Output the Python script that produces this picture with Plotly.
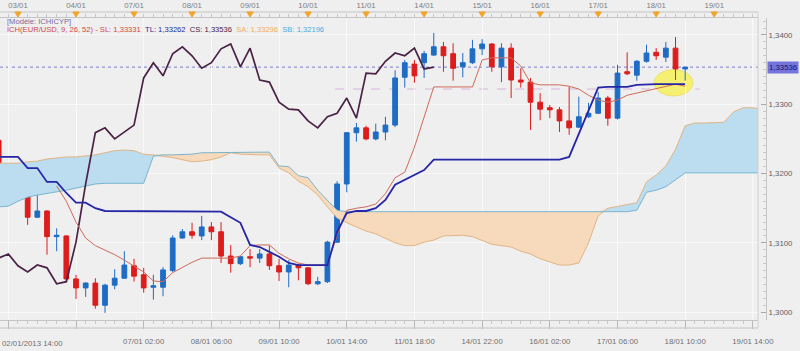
import plotly.graph_objects as go
import numpy as np

# ---------------- data (EUR/USD 4h candles, index = candle number) ----------------
candle_x = list(range(-2, 70))
opens = [1.3248, 1.3168, 1.3184, 1.3171, 1.3137, 1.3146, 1.3109, 1.3110, 1.3048, 1.3035,
         1.3042, 1.3010, 1.3039, 1.3049, 1.3067, 1.3054, 1.3036, 1.3036, 1.3060, 1.3107,
         1.3116, 1.3110, 1.3123, 1.3116, 1.3081, 1.3070, 1.3080, 1.3078, 1.3084, 1.3067,
         1.3058, 1.3068, 1.3064, 1.3041, 1.3044, 1.3101, 1.3185, 1.3259, 1.3266, 1.3250,
         1.3260, 1.3270, 1.3339, 1.3358, 1.3360, 1.3371, 1.3383, 1.3373, 1.3354, 1.3360,
         1.3380, 1.3387, 1.3354, 1.3381, 1.3335, 1.3332, 1.3303, 1.3295, 1.3292, 1.3276,
         1.3267, 1.3282, 1.3287, 1.3309, 1.3280, 1.3347, 1.3342, 1.3362, 1.3375, 1.3368,
         1.3381, 1.3351]
highs = [1.3254, 1.3188, 1.3188, 1.3172, 1.3169, 1.3147, 1.3121, 1.3111, 1.3054, 1.3043,
         1.3049, 1.3041, 1.3062, 1.3088, 1.3077, 1.3064, 1.3054, 1.3065, 1.3111, 1.3120,
         1.3129, 1.3139, 1.3130, 1.3130, 1.3097, 1.3081, 1.3091, 1.3091, 1.3096, 1.3077,
         1.3075, 1.3070, 1.3065, 1.3051, 1.3103, 1.3189, 1.3260, 1.3273, 1.3269, 1.3272,
         1.3282, 1.3349, 1.3364, 1.3364, 1.3377, 1.3403, 1.3390, 1.3388, 1.3374, 1.3393,
         1.3394, 1.3388, 1.3388, 1.3388, 1.3352, 1.3338, 1.3316, 1.3299, 1.3296, 1.3325,
         1.3311, 1.3302, 1.3318, 1.3312, 1.3357, 1.3375, 1.3364, 1.3386, 1.3381, 1.3390,
         1.3397, 1.3354]
lows = [1.3166, 1.3158, 1.3165, 1.3126, 1.3136, 1.3083, 1.3088, 1.3045, 1.3019, 1.3022,
        1.3005, 1.2999, 1.3033, 1.3048, 1.3044, 1.3028, 1.3018, 1.3023, 1.3058, 1.3106,
        1.3106, 1.3104, 1.3104, 1.3071, 1.3057, 1.3068, 1.3065, 1.3071, 1.3061, 1.3045,
        1.3036, 1.3046, 1.3039, 1.3039, 1.3042, 1.3100, 1.3173, 1.3246, 1.3248, 1.3248,
        1.3248, 1.3267, 1.3324, 1.3331, 1.3338, 1.3370, 1.3347, 1.3334, 1.3339, 1.3358,
        1.3371, 1.3347, 1.3332, 1.3309, 1.3324, 1.3263, 1.3277, 1.3280, 1.3260, 1.3256,
        1.3266, 1.3280, 1.3286, 1.3269, 1.3278, 1.3342, 1.3334, 1.3360, 1.3364, 1.3361,
        1.3335, 1.3334]
closes = [1.3169, 1.3184, 1.3169, 1.3137, 1.3146, 1.3109, 1.3111, 1.3048, 1.3035, 1.3042,
          1.3010, 1.3039, 1.3049, 1.3068, 1.3052, 1.3035, 1.3038, 1.3061, 1.3107, 1.3116,
          1.3111, 1.3123, 1.3116, 1.3081, 1.3070, 1.3080, 1.3078, 1.3084, 1.3067, 1.3058,
          1.3068, 1.3064, 1.3041, 1.3044, 1.3101, 1.3185, 1.3259, 1.3266, 1.3250, 1.3260,
          1.3270, 1.3338, 1.3360, 1.3341, 1.3373, 1.3383, 1.3370, 1.3352, 1.3360, 1.3380,
          1.3387, 1.3354, 1.3381, 1.3335, 1.3332, 1.3303, 1.3293, 1.3292, 1.3276, 1.3266,
          1.3282, 1.3287, 1.3309, 1.3280, 1.3345, 1.3344, 1.3362, 1.3374, 1.3370, 1.3381,
          1.3351, 1.33536]

# Tenkan (SL) - hidden inside the cloud for the first candles
tenkan = [None, None, None, None, None, None,
          1.3182, 1.3160, 1.3130, 1.3107, 1.3096, 1.3090, 1.3083, 1.3075, 1.3067, 1.3058,
          1.3045, 1.3044, 1.3057, 1.3065, 1.3072, 1.3078, 1.3078, 1.3078, 1.3078, 1.3081,
          1.3096, 1.3097, 1.3097, 1.3085, 1.3077, 1.3071, 1.3068, 1.3068, 1.3068, 1.3111,
          1.3147, 1.3150, 1.3152, 1.3156, 1.3171, 1.3194, 1.3202, 1.3238, 1.3282, 1.3325,
          1.3325, 1.3325, 1.3325, 1.3325, 1.3364, 1.3367, 1.3367, 1.3367, 1.3355, 1.3331,
          1.3328, 1.3328, 1.3328, 1.3326, 1.3322, 1.3313, 1.3306, 1.3303, 1.3306, 1.3313,
          1.3316, 1.3319, 1.3322, 1.3326, 1.3329, 1.3326]
# Kijun (TL)
kijun = [1.3224, 1.3224, 1.3224, 1.3208, 1.3208, 1.3188, 1.3188, 1.3172, 1.3158, 1.3158,
         1.3150, 1.3146, 1.3146, 1.3146, 1.3145, 1.3145, 1.3145, 1.3145, 1.3145, 1.3145,
         1.3145, 1.3145, 1.3145, 1.3145, 1.3137, 1.3129, 1.3097, 1.3094, 1.3087, 1.3080,
         1.3071, 1.3068, 1.3068, 1.3068, 1.3068, 1.3116, 1.3143, 1.3146, 1.3146, 1.3150,
         1.3162, 1.3184, 1.3191, 1.3197, 1.3205, 1.3220, 1.3220, 1.3220, 1.3220, 1.3220,
         1.3220, 1.3220, 1.3220, 1.3220, 1.3220, 1.3220, 1.3220, 1.3220, 1.3220, 1.3224,
         1.3257, 1.3292, 1.3324, 1.3325, 1.3325, 1.3325, 1.3328, 1.3329, 1.3329, 1.3329,
         1.3329, 1.3329]

# Senkou spans (cloud), shown 26 candles ahead
cloud_x = list(range(-2, 78))
senkou_a = [1.3215, 1.3215, 1.3215, 1.3217, 1.3218, 1.3221, 1.3223, 1.3224, 1.3224, 1.3225,
            1.3227, 1.3230, 1.3233, 1.3234, 1.3233, 1.3228, 1.3227, 1.3225, 1.3223, 1.3220,
            1.3217, 1.3218, 1.3220, 1.3224, 1.3230, 1.3228, 1.3227, 1.3227, 1.3227, 1.3208,
            1.3201, 1.3189, 1.3181, 1.3169, 1.3152, 1.3136, 1.3129, 1.3123, 1.3117, 1.3113,
            1.3107, 1.3100, 1.3096, 1.3096, 1.3101, 1.3104, 1.3110, 1.3111, 1.3111, 1.3109,
            1.3104, 1.3098, 1.3096, 1.3094, 1.3088, 1.3084, 1.3077, 1.3072, 1.3068, 1.3068,
            1.3071, 1.3100, 1.3139, 1.3150, 1.3153, 1.3155, 1.3158, 1.3188, 1.3198, 1.3211,
            1.3235, 1.3269, 1.3273, 1.3273, 1.3273, 1.3274, 1.3289, 1.3295, 1.3295, 1.3293]
senkou_b = [1.3152, 1.3153, 1.3160, 1.3166, 1.3169, 1.3171, 1.3173, 1.3176, 1.3179, 1.3182,
            1.3185, 1.3186, 1.3186, 1.3186, 1.3186, 1.3186, 1.3225, 1.3227, 1.3227, 1.3227,
            1.3228, 1.3230, 1.3230, 1.3231, 1.3231, 1.3231, 1.3231, 1.3231, 1.3231, 1.3211,
            1.3210, 1.3197, 1.3194, 1.3176, 1.3162, 1.3147, 1.3145, 1.3145, 1.3145, 1.3145,
            1.3145, 1.3145, 1.3145, 1.3145, 1.3145, 1.3145, 1.3145, 1.3145, 1.3145, 1.3145,
            1.3145, 1.3145, 1.3145, 1.3145, 1.3145, 1.3145, 1.3145, 1.3145, 1.3145, 1.3145,
            1.3145, 1.3145, 1.3145, 1.3145, 1.3145, 1.3145, 1.3147, 1.3173, 1.3176, 1.3181,
            1.3191, 1.3201, 1.3201, 1.3201, 1.3201, 1.3201, 1.3201, 1.3201, 1.3201, 1.3201]

chikou_shift = 26
ref_level = 1.3322  # dashed reference level

bottom_tick_pos = [-1, 6, 13, 20, 27, 34, 41, 48, 55, 62, 69, 76]
bottom_tick_text = ["", "", "07/01 02:00", "08/01 06:00", "09/01 10:00", "10/01 14:00",
                    "11/01 18:00", "14/01 22:00", "16/01 02:00", "17/01 06:00",
                    "18/01 10:00", "19/01 14:00"]
first_label = "02/01/2013 14:00"
top_tick_pos = [0, 6, 12, 18, 24, 30, 36, 42, 48, 54, 60, 66, 72]
top_tick_text = ["03/01", "04/01", "07/01", "08/01", "09/01", "10/01", "11/01",
                 "14/01", "15/01", "16/01", "17/01", "18/01", "19/01"]

# ---------------- figure ----------------
FONT = "Liberation Sans, Arial, sans-serif"
BLUE_FILL = "#bcdcf0"
PEACH_FILL = "#f6dabb"
XR = [-1.86, 76.53]
YR = [1.29887, 1.34245]
XDOM = 758 / 766
PH = 302  # plot height in px

sa = np.array(senkou_a)
sb = np.array(senkou_b)
top = np.maximum(sa, sb)

fig = go.Figure()
# bullish cloud (SA above SB)
fig.add_trace(go.Scatter(x=cloud_x, y=sb, mode="lines", line=dict(width=0), hoverinfo="skip"))
fig.add_trace(go.Scatter(x=cloud_x, y=top, mode="lines", line=dict(width=0), fill="tonexty",
                         fillcolor=BLUE_FILL, hoverinfo="skip"))
# bearish cloud (SB above SA)
fig.add_trace(go.Scatter(x=cloud_x, y=sa, mode="lines", line=dict(width=0), hoverinfo="skip"))
fig.add_trace(go.Scatter(x=cloud_x, y=top, mode="lines", line=dict(width=0), fill="tonexty",
                         fillcolor=PEACH_FILL, hoverinfo="skip"))
fig.add_trace(go.Scatter(x=cloud_x, y=senkou_a, mode="lines", line=dict(color="#e0b585", width=1)))
fig.add_trace(go.Scatter(x=cloud_x, y=senkou_b, mode="lines", line=dict(color="#79b5cc", width=1)))

# chikou = closes displayed 26 periods back
chikou_x = [c - chikou_shift for c in candle_x[chikou_shift:]]
chikou_y = closes[chikou_shift:]
fig.add_trace(go.Scatter(x=chikou_x, y=chikou_y, mode="lines", line=dict(color="#4a2245", width=1.7)))
fig.add_trace(go.Scatter(x=candle_x, y=tenkan, mode="lines", line=dict(color="#cf6a5a", width=1)))
fig.add_trace(go.Scatter(x=candle_x, y=kijun, mode="lines", line=dict(color="#2626a6", width=1.8)))

fig.add_trace(go.Candlestick(
    x=candle_x, open=opens, high=highs, low=lows, close=closes,
    increasing=dict(line=dict(color="#1e6cc4", width=1), fillcolor="#1e6cc4"),
    decreasing=dict(line=dict(color="#dd1c1c", width=1), fillcolor="#dd1c1c"),
    whiskerwidth=0, hoverinfo="skip"))

# dummy trace to activate top axis
fig.add_trace(go.Scatter(x=top_tick_pos, y=[None] * len(top_tick_pos), xaxis="x2",
                         mode="markers", hoverinfo="skip"))

last_close = closes[-1]
shapes = [
    dict(type="line", xref="paper", yref="y", x0=0, x1=XDOM, y0=last_close, y1=last_close,
         line=dict(color="#7d7dd0", width=1, dash="dot"), layer="below"),
    dict(type="line", xref="x", yref="y", x0=32.8, x1=70.5, y0=ref_level, y1=ref_level,
         line=dict(color="#d8b4dc", width=1, dash="dash"), layer="below"),
    dict(type="circle", xref="x", yref="y", x0=65.8, x1=69.8, y0=1.3312, y1=1.3350,
         fillcolor="#f5ef72", line=dict(color="#eee070", width=1), layer="below"),
    dict(type="line", xref="paper", yref="paper", x0=0, x1=XDOM, y0=1 + 6 / PH, y1=1 + 6 / PH,
         line=dict(color="#c4c4c4", width=1)),
    dict(type="line", xref="paper", yref="paper", x0=0, x1=XDOM, y0=-8 / PH, y1=-8 / PH,
         line=dict(color="#c4c4c4", width=1)),
    dict(type="line", xref="paper", yref="paper", x0=XDOM, x1=XDOM, y0=-8 / PH, y1=1 + 6 / PH,
         line=dict(color="#d0d0d0", width=1)),
]
# orange day markers (down-pointing triangles) on the top ruler
for p in top_tick_pos:
    ytop = 1 + 6 / PH
    ybot = 1 + 1 / PH
    shapes.append(dict(type="path", xref="x", yref="paper",
                       path=f"M {p - 0.33},{ytop} L {p + 0.33},{ytop} L {p},{ybot} Z",
                       fillcolor="#f2a52a", line=dict(color="#f2a52a", width=1)))

annotations = []
annotations.append(dict(x=0, xref="paper", y=-23 / PH, yref="paper", xanchor="left", yanchor="middle",
                        text=first_label, showarrow=False, font=dict(size=7.8, color="#707070", family=FONT)))
annotations.append(dict(x=5 / 766, xref="paper", y=1 - 4 / PH, yref="paper", xanchor="left", yanchor="middle",
                        text="[Modèle: ICHICYP]", showarrow=False,
                        font=dict(size=7.6, color="#7a6a98", family=FONT)))
legend_line = ("<span style='color:#d04848'>ICH(EUR/USD, 9, 26, 52) - SL: 1,33331</span> &nbsp;"
               "<span style='color:#2a2a9a'>TL: 1,33262</span> &nbsp;"
               "<span style='color:#4a2245'>CS: 1,33536</span> &nbsp;"
               "<span style='color:#f0b060'>SA: 1,33296</span> &nbsp;"
               "<span style='color:#4aaee0'>SB: 1,32196</span>")
annotations.append(dict(x=5 / 766, xref="paper", y=1 - 12 / PH, yref="paper", xanchor="left", yanchor="middle",
                        text=legend_line, showarrow=False, font=dict(size=7.6, family=FONT)))
annotations.append(dict(x=1, xref="paper", y=last_close, yref="y", xanchor="left", yanchor="middle", xshift=1,
                        text="1,33536", showarrow=False, bgcolor="#7474dc", borderpad=1,
                        font=dict(size=7.8, color="#14146a", family=FONT)))

fig.update_layout(
    width=800, height=351,
    margin=dict(l=0, r=34, t=18, b=31, pad=0),
    paper_bgcolor="#efefef", plot_bgcolor="#efefef",
    separators=",.",
    font=dict(family=FONT, size=7.8, color="#707070"),
    showlegend=False, hovermode=False,
    shapes=shapes, annotations=annotations,
    xaxis=dict(domain=[0, XDOM], range=XR, tickmode="array", tickvals=bottom_tick_pos,
               ticktext=bottom_tick_text, ticks="outside", ticklen=8, tickcolor="#b8b8b8",
               showgrid=True, gridcolor="#f9f9f9", gridwidth=1, zeroline=False,
               showline=True, linecolor="#c4c4c4", ticklabelstandoff=6,
               minor=dict(dtick=1, tick0=0, ticks="outside", ticklen=3, tickcolor="#c8c8c8", showgrid=False),
               rangeslider=dict(visible=False), tickfont=dict(size=7.8, color="#707070")),
    xaxis2=dict(domain=[0, XDOM], range=XR, overlaying="x", side="top", anchor="y",
                tickmode="array", tickvals=top_tick_pos, ticktext=top_tick_text,
                ticks="outside", ticklen=6, tickcolor="#b8b8b8", showgrid=False, zeroline=False,
                showline=True, linecolor="#c4c4c4",
                minor=dict(dtick=1, tick0=0, ticks="outside", ticklen=3, tickcolor="#c8c8c8", showgrid=False),
                tickfont=dict(size=7.8, color="#808080")),
    yaxis=dict(range=YR, side="right", anchor="free", position=1, tick0=1.30, dtick=0.01,
               tickformat=".4f", ticks="inside", ticklen=5, tickcolor="#a8a8a8",
               showgrid=True, gridcolor="#f9f9f9", zeroline=False, showline=True, linecolor="#c4c4c4",
               minor=dict(dtick=0.001, ticks="inside", ticklen=3, tickcolor="#c8c8c8", showgrid=False),
               tickfont=dict(size=7.8, color="#606060")),
)

fig.write_html("out.html")
